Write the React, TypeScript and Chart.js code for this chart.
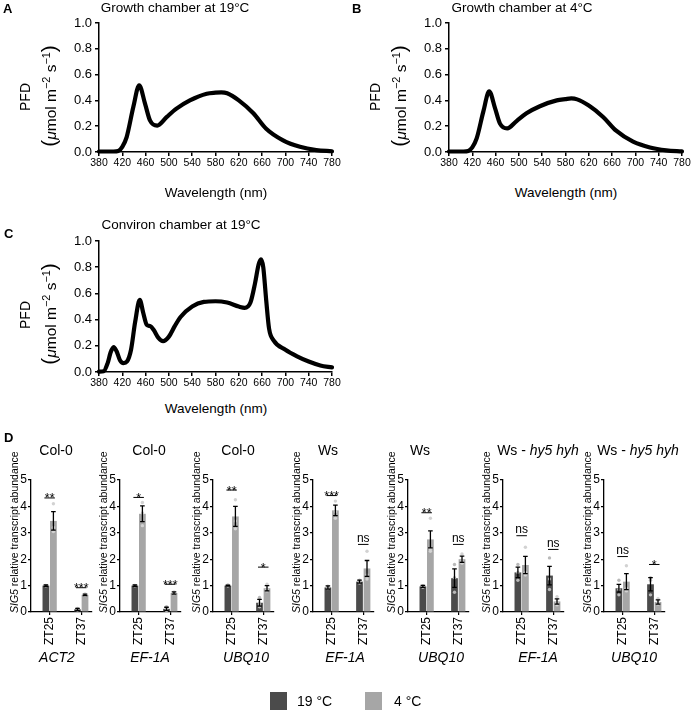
import React, { useEffect, useRef } from 'react';
import { Chart, registerables } from 'chart.js';

Chart.register(...registerables);

const FONT = '"Liberation Sans", Arial, Helvetica, sans-serif';
Chart.defaults.font.family = FONT;
Chart.defaults.color = '#000';

// ---------- Spectra (PFD, µmol m-2 s-1 per nm) ----------
const wavelengthA = [380, 405, 413, 420, 427.5, 439, 449, 459, 467.5, 480, 496, 513, 536, 565, 580, 590, 600, 620, 645, 667, 696, 725, 753, 780];
const pfdA = [0.004, 0.004, 0.008, 0.04, 0.116, 0.35, 0.517, 0.375, 0.245, 0.205, 0.27, 0.336, 0.4, 0.452, 0.46, 0.462, 0.455, 0.4, 0.3, 0.18, 0.09, 0.04, 0.015, 0.006];

const wavelengthB = [380, 405, 413, 420, 427.5, 439, 449, 459, 467.5, 480, 496, 513, 536, 565, 580, 590, 600, 620, 645, 667, 696, 725, 753, 780];
const pfdB = [0.004, 0.004, 0.008, 0.036, 0.105, 0.315, 0.47, 0.34, 0.22, 0.183, 0.24, 0.3, 0.355, 0.4, 0.41, 0.415, 0.408, 0.36, 0.27, 0.165, 0.08, 0.035, 0.013, 0.005];

const wavelengthC = [380, 388, 395, 400, 405, 410, 416, 422, 428, 435, 442, 450, 456, 462, 468, 474, 482, 490, 500, 510, 520, 540, 560, 580, 600, 620, 630, 640, 648, 654, 658, 662, 667, 672, 680, 700, 720, 740, 760, 780];
const pfdC = [0.003, 0.006, 0.07, 0.15, 0.19, 0.16, 0.09, 0.068, 0.08, 0.17, 0.38, 0.55, 0.45, 0.36, 0.35, 0.32, 0.26, 0.235, 0.27, 0.35, 0.42, 0.5, 0.535, 0.54, 0.53, 0.5, 0.49, 0.53, 0.68, 0.82, 0.86, 0.8, 0.55, 0.33, 0.24, 0.17, 0.12, 0.08, 0.05, 0.035];

// ---------- Panel D: SIG5 relative transcript abundance ----------
const zeitgeberLabels = ['ZT25', 'ZT37'];
const temperatureLabels = ['19 °C', '4 °C'];
const panelGenotypes = ['Col-0', 'Col-0', 'Col-0', 'Ws', 'Ws', 'Ws - hy5 hyh', 'Ws - hy5 hyh'];
const referenceGenes = ['ACT2', 'EF-1A', 'UBQ10', 'EF-1A', 'UBQ10', 'EF-1A', 'UBQ10'];

const mean19 = [[1.0, 0.1], [1.0, 0.12], [1.0, 0.35], [0.93, 1.15], [0.97, 1.28], [1.5, 1.38], [0.9, 1.05]];
const sem19 = [[0.03, 0.04], [0.03, 0.06], [0.02, 0.13], [0.06, 0.06], [0.04, 0.35], [0.2, 0.35], [0.15, 0.25]];
const mean4 = [[3.45, 0.65], [3.72, 0.72], [3.62, 0.9], [3.85, 1.65], [2.75, 2.0], [1.78, 0.4], [1.15, 0.38]];
const sem4 = [[0.35, 0.03], [0.3, 0.04], [0.38, 0.1], [0.2, 0.3], [0.32, 0.12], [0.33, 0.1], [0.3, 0.08]];

const reps19 = [
  [[1.01, 0.99, 1.0], [0.13, 0.08, 0.09]],
  [[1.01, 0.99, 1.0], [0.2, 0.1, 0.06]],
  [[1.02, 0.99, 0.99], [0.55, 0.3, 0.2]],
  [[0.98, 0.92, 0.89], [1.2, 1.15, 1.1]],
  [[1.0, 0.97, 0.94], [1.8, 1.3, 0.75]],
  [[1.8, 1.5, 1.2], [2.05, 1.25, 0.85]],
  [[1.2, 0.85, 0.65], [1.3, 1.2, 0.65]],
];
const reps4 = [
  [[4.1, 3.2, 3.05], [0.68, 0.63, 0.64]],
  [[4.15, 3.75, 3.27], [0.76, 0.7, 0.7]],
  [[4.25, 3.45, 3.15], [1.05, 0.85, 0.8]],
  [[4.2, 3.8, 3.55], [2.3, 1.4, 1.25]],
  [[3.55, 2.4, 2.3], [2.2, 1.95, 1.85]],
  [[2.45, 1.5, 1.4], [0.58, 0.35, 0.27]],
  [[1.75, 0.9, 0.8], [0.5, 0.35, 0.3]],
];
const sigLabels = [['**', '***'], ['*', '***'], ['**', '*'], ['***', 'ns'], ['**', 'ns'], ['ns', 'ns'], ['ns', '*']];
const sigLevels = [[4.32, 0.92], [4.34, 1.05], [4.62, 1.7], [4.41, 2.56], [3.76, 2.56], [2.89, 2.37], [2.1, 1.8]];

const DARK = '#4b4b4b';
const LIGHT = '#a6a6a6';

// ---------- helpers ----------
function Txt(props: any) {
  const { x, y, size = 13.5, bold = false, italic = false, anchor = 'middle', children } = props;
  const tx = anchor === 'middle' ? '-50%' : anchor === 'end' ? '-100%' : '0';
  return (
    <div style={{ position: 'absolute', left: x, top: y, fontSize: size, fontWeight: bold ? 'bold' : 'normal', fontStyle: italic ? 'italic' : 'normal', whiteSpace: 'nowrap', lineHeight: 1, transform: `translate(${tx},-50%)`, fontFamily: FONT, color: '#000' }}>
      {children}
    </div>
  );
}

function VTxtCenter(props: any) {
  const { x, y, size = 13.5, children } = props;
  return (
    <div style={{ position: 'absolute', left: x, top: y, fontSize: size, whiteSpace: 'nowrap', lineHeight: 1, transform: 'translate(-50%,-50%) rotate(-90deg)', fontFamily: FONT, color: '#000' }}>
      {children}
    </div>
  );
}

function VTxtStart(props: any) {
  const { x, y, size = 10.5, children } = props;
  const lh = 12;
  return (
    <div style={{ position: 'absolute', left: x, top: y - lh / 2, height: lh, fontSize: size, whiteSpace: 'nowrap', lineHeight: lh + 'px', transform: 'rotate(-90deg)', transformOrigin: '0 50%', fontFamily: FONT, color: '#000' }}>
      {children}
    </div>
  );
}

function Spectrum(props: any) {
  const { wl, pfd, left, top, width, height, yW, padTop, padRight, xH } = props;
  const ref = useRef<HTMLCanvasElement>(null);
  useEffect(() => {
    const chart = new Chart(ref.current as HTMLCanvasElement, {
      type: 'line',
      data: {
        datasets: [{
          data: wl.map((x: number, i: number) => ({ x, y: pfd[i] })),
          borderColor: '#000', borderWidth: 4.2, pointRadius: 0, fill: false,
          cubicInterpolationMode: 'monotone', clip: false as any,
          borderJoinStyle: 'round', borderCapStyle: 'round',
        } as any],
      },
      options: {
        animation: false, responsive: false, devicePixelRatio: 1,
        layout: { padding: { top: padTop, right: padRight, left: 0, bottom: 0 } },
        plugins: { legend: { display: false }, tooltip: { enabled: false } },
        scales: {
          x: {
            type: 'linear', min: 380, max: 780, bounds: 'data',
            afterFit: (s: any) => { s.height = xH; },
            ticks: { stepSize: 40, font: { size: 10.5, family: FONT }, color: '#000', padding: 1, maxRotation: 0, autoSkip: false },
            grid: { drawOnChartArea: false, tickLength: 4, color: '#000', lineWidth: 1.5 },
            border: { color: '#000', width: 1.5 },
          },
          y: {
            min: 0, max: 1,
            afterFit: (s: any) => { s.width = yW; },
            ticks: { stepSize: 0.2, callback: (v: any) => Number(v).toFixed(1), font: { size: 13, family: FONT }, color: '#000', padding: 3 },
            grid: { drawOnChartArea: false, tickLength: 4, color: '#000', lineWidth: 1.5 },
            border: { color: '#000', width: 1.5 },
          },
        },
      } as any,
    });
    return () => chart.destroy();
  }, []);
  return <canvas ref={ref} width={width} height={height} style={{ position: 'absolute', left, top }} />;
}

const barDecor = {
  id: 'barDecor',
  afterDatasetsDraw(chart: any, _args: any, opts: any) {
    const { ctx } = chart;
    const ys = chart.scales.y;
    const k = opts.k;
    const means = [mean19[k], mean4[k]];
    const sems = [sem19[k], sem4[k]];
    const reps = [reps19[k], reps4[k]];
    ctx.save();
    for (let d = 0; d < 2; d++) {
      const meta = chart.getDatasetMeta(d);
      meta.data.forEach((bar: any, j: number) => {
        ctx.fillStyle = d === 0 ? '#b9b9b9' : '#d2d2d2';
        reps[d][j].forEach((v: number) => {
          ctx.beginPath();
          ctx.arc(bar.x, ys.getPixelForValue(v), 1.7, 0, Math.PI * 2);
          ctx.fill();
        });
        const m = means[d][j];
        const e = sems[d][j];
        const yt = ys.getPixelForValue(m + e);
        const yb = ys.getPixelForValue(Math.max(0, m - e));
        ctx.strokeStyle = '#000';
        ctx.lineWidth = 1.3;
        ctx.beginPath();
        ctx.moveTo(bar.x, yt); ctx.lineTo(bar.x, yb);
        ctx.moveTo(bar.x - 2.3, yt); ctx.lineTo(bar.x + 2.3, yt);
        ctx.moveTo(bar.x - 2.3, yb); ctx.lineTo(bar.x + 2.3, yb);
        ctx.stroke();
      });
    }
    const m0 = chart.getDatasetMeta(0).data;
    const m1 = chart.getDatasetMeta(1).data;
    for (let j = 0; j < 2; j++) {
      const lbl = sigLabels[k][j];
      const ly = ys.getPixelForValue(sigLevels[k][j]);
      const x0 = m0[j].x - 1.5;
      const x1 = m1[j].x + 1.5;
      ctx.strokeStyle = '#000';
      ctx.lineWidth = 1;
      ctx.beginPath();
      ctx.moveTo(x0, ly); ctx.lineTo(x1, ly);
      ctx.stroke();
      ctx.fillStyle = '#000';
      ctx.textAlign = 'center';
      ctx.textBaseline = 'alphabetic';
      if (lbl === 'ns') {
        ctx.font = `12px ${FONT}`;
        ctx.fillText(lbl, (x0 + x1) / 2, ly - 2.5);
      } else {
        ctx.font = `12.5px ${FONT}`;
        ctx.fillText(lbl, (x0 + x1) / 2, ly + 4.5);
      }
    }
    ctx.restore();
  },
};

function BarPanel(props: any) {
  const { k, axisLeft } = props;
  const ref = useRef<HTMLCanvasElement>(null);
  const yW = 26;
  const padRight = 10;
  const plotW = 61;
  const width = yW + plotW + padRight;
  const top = 470;
  const height = 185;
  const padTop = 10;
  const xH = 43;
  useEffect(() => {
    const chart = new Chart(ref.current as HTMLCanvasElement, {
      type: 'bar',
      data: {
        datasets: [
          { label: temperatureLabels[0], data: zeitgeberLabels.map((_, j) => ({ x: j + 1, y: mean19[k][j] })), backgroundColor: DARK, borderWidth: 0 },
          { label: temperatureLabels[1], data: zeitgeberLabels.map((_, j) => ({ x: j + 1, y: mean4[k][j] })), backgroundColor: LIGHT, borderWidth: 0 },
        ],
      },
      options: {
        animation: false, responsive: false, devicePixelRatio: 1,
        categoryPercentage: 0.475, barPercentage: 0.9,
        layout: { padding: { top: padTop, right: padRight, left: 0, bottom: 0 } },
        plugins: { legend: { display: false }, tooltip: { enabled: false }, barDecor: { k } },
        scales: {
          x: {
            type: 'linear', min: 0.41, max: 2.34, bounds: 'data', offset: false,
            afterBuildTicks: (s: any) => { s.ticks = [{ value: 1 }, { value: 2 }]; },
            afterFit: (s: any) => { s.height = xH; },
            ticks: { callback: (_v: any, i: number) => zeitgeberLabels[i], font: { size: 12, family: FONT }, color: '#000', padding: 2, minRotation: 90, maxRotation: 90, autoSkip: false },
            grid: { drawOnChartArea: false, offset: false, tickLength: 3, color: '#000', lineWidth: 1.2 },
            border: { color: '#000', width: 1.3 },
          },
          y: {
            min: 0, max: 5,
            afterFit: (s: any) => { s.width = yW; },
            ticks: { stepSize: 1, font: { size: 12, family: FONT }, color: '#000', padding: 1 },
            grid: { drawOnChartArea: false, tickLength: 3, color: '#000', lineWidth: 1.2 },
            border: { color: '#000', width: 1.3 },
          },
        },
      } as any,
      plugins: [barDecor as any],
    });
    return () => chart.destroy();
  }, []);
  return <canvas ref={ref} width={width} height={height} style={{ position: 'absolute', left: axisLeft - yW, top }} />;
}

function PfdTitle(props: any) {
  const { x, y } = props;
  const sup = { fontSize: '70%', verticalAlign: '0.5em' };
  return (
    <>
      <VTxtCenter x={x} y={y + 1} size={14}>PFD</VTxtCenter>
      <VTxtCenter x={x + 23} y={y} size={15.5}>
        <span style={{ fontSize: 21 }}>(</span><i>μ</i>mol m<sup style={sup}>−2</sup> s<sup style={sup}>−1</sup><span style={{ fontSize: 21 }}>)</span>
      </VTxtCenter>
    </>
  );
}

export default function App() {
  const axisLefts = [31, 120, 213, 313, 408, 503, 604];
  const titleX = [56, 149, 238, 328, 420, 538, 638];
  const geneX = [57, 150, 246, 345, 441, 538, 634];
  return (
    <div style={{ position: 'absolute', left: 0, top: 0, width: 693, height: 710, overflow: 'hidden', background: '#fff', fontFamily: FONT }}>
      <Spectrum wl={wavelengthA} pfd={pfdA} left={0} top={0} width={345} height={175} yW={99} padTop={23} padRight={13} xH={23} />
      <Spectrum wl={wavelengthB} pfd={pfdB} left={350} top={0} width={345} height={175} yW={99} padTop={23} padRight={13} xH={23} />
      <Spectrum wl={wavelengthC} pfd={pfdC} left={0} top={218} width={345} height={177} yW={99} padTop={23} padRight={13} xH={23} />
      {panelGenotypes.map((_, k) => <BarPanel key={k} k={k} axisLeft={axisLefts[k]} />)}

      <Txt x={3} y={8} size={13} bold anchor="start">A</Txt>
      <Txt x={352} y={8} size={13} bold anchor="start">B</Txt>
      <Txt x={4} y={233} size={13} bold anchor="start">C</Txt>
      <Txt x={4} y={437} size={13} bold anchor="start">D</Txt>

      <Txt x={175} y={8}>Growth chamber at 19°C</Txt>
      <Txt x={522} y={8}>Growth chamber at 4°C</Txt>
      <Txt x={181} y={225}>Conviron chamber at 19°C</Txt>

      <PfdTitle x={25} y={96} />
      <PfdTitle x={375} y={96} />
      <PfdTitle x={25} y={314} />

      <Txt x={216} y={193}>Wavelength (nm)</Txt>
      <Txt x={566} y={193}>Wavelength (nm)</Txt>
      <Txt x={216} y={409}>Wavelength (nm)</Txt>

      {panelGenotypes.map((g, k) => (
        <Txt key={'t' + k} x={titleX[k]} y={450} size={14}>
          {g.startsWith('Ws - ') ? <>Ws - <i>{g.slice(5)}</i></> : g}
        </Txt>
      ))}
      {axisLefts.map((a, k) => (
        <VTxtStart key={'y' + k} x={a - 17} y={613} size={10.5}><i>SIG5</i> relative transcript abundance</VTxtStart>
      ))}
      {referenceGenes.map((g, k) => (
        <Txt key={'g' + k} x={geneX[k]} y={657} size={14} italic>{g}</Txt>
      ))}

      <div style={{ position: 'absolute', left: 270, top: 692, width: 17, height: 18, background: DARK }} />
      <Txt x={297} y={701} size={14} anchor="start">{temperatureLabels[0]}</Txt>
      <div style={{ position: 'absolute', left: 365, top: 692, width: 17, height: 18, background: LIGHT }} />
      <Txt x={394} y={701} size={14} anchor="start">{temperatureLabels[1]}</Txt>
    </div>
  );
}
